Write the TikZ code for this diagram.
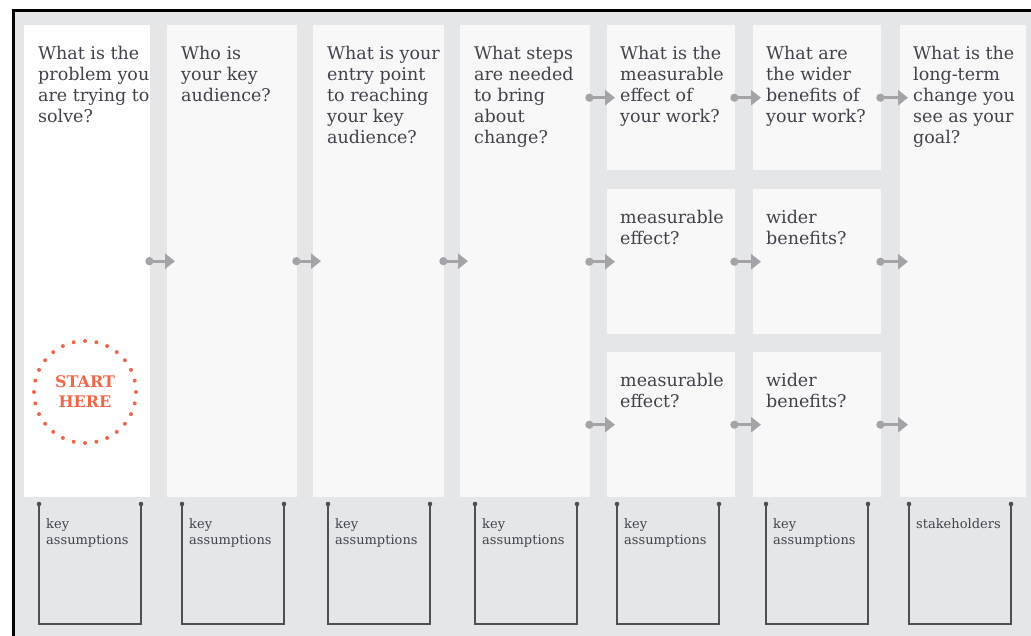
\documentclass[tikz,border=0pt]{standalone}
\usepackage{fontspec}
\setmainfont{DejaVu Serif}
\usetikzlibrary{arrows.meta,calc}
\definecolor{bgray}{HTML}{E5E6E8}
\definecolor{cardfill}{HTML}{F8F8F8}
\definecolor{ink}{HTML}{42424C}
\definecolor{arrowgray}{HTML}{A3A3A8}
\definecolor{brkgray}{HTML}{505054}
\definecolor{coral}{HTML}{F2664A}
\begin{document}
\begin{tikzpicture}[x=1pt,y=-1pt,
  card/.style={fill=cardfill, draw=none, inner sep=0pt, anchor=north west},
  tallcard/.style={card, minimum height=472pt},
  rowcard/.style={card, minimum width=128pt, minimum height=145pt},
  q/.style={anchor=north west, inner sep=0pt, align=left, text=ink, font=\fontsize{17.5}{21}\selectfont},
  small/.style={anchor=north west, inner sep=0pt, align=left, text=ink, font=\fontsize{13}{16}\selectfont},
  flow/.style={draw=arrowgray, line width=2.8pt, {Circle[length=8pt,width=8pt]}-{Triangle[length=10pt,width=15pt]}},
  bracket/.style={draw=brkgray, line width=1.5pt},
  brkdot/.style={fill=brkgray},
  startdot/.style={fill=coral}]
\useasboundingbox (0,0) rectangle (1031,636);
\clip (0,0) rectangle (1031,636);
\fill[white] (0,0) rectangle (1031,636);
\fill[bgray] (13,10) rectangle (1031,636);
\draw[line width=3pt] (13.5,640) -- (13.5,10.5) -- (1040,10.5);

% columns
\node[tallcard, fill=white, minimum width=126pt] (c1) at (24,25) {};
\node[tallcard, minimum width=130pt] (c2) at (167,25) {};
\node[tallcard, minimum width=131pt] (c3) at (313,25) {};
\node[tallcard, minimum width=130pt] (c4) at (460,25) {};
\node[rowcard] (r1a) at (607,25) {};
\node[rowcard] (r2a) at (607,189) {};
\node[rowcard] (r3a) at (607,352) {};
\node[rowcard] (r1b) at (753,25) {};
\node[rowcard] (r2b) at (753,189) {};
\node[rowcard] (r3b) at (753,352) {};
\node[tallcard, minimum width=126pt] (c7) at (900,25) {};

% questions
\node[q] (t1) at (38,46) {What is the\\problem you\\are trying to\\solve?};
\node[q] (t2) at (181,46) {Who is\\your key\\audience?};
\node[q] (t3) at (327,46) {What is your\\entry point\\to reaching\\your key\\audience?};
\node[q] (t4) at (474,46) {What steps\\are needed\\to bring\\about\\change?};
\node[q] (t5) at (620,46) {What is the\\measurable\\effect of\\your work?};
\node[q] (t6) at (766,46) {What are\\the wider\\benefits of\\your work?};
\node[q] (t7) at (913,46) {What is the\\long-term\\change you\\see as your\\goal?};
\node[q] (t5b) at (620,210) {measurable\\effect?};
\node[q] (t6b) at (766,210) {wider\\benefits?};
\node[q] (t5c) at (620,373) {measurable\\effect?};
\node[q] (t6c) at (766,373) {wider\\benefits?};

% start here
\node[inner sep=0pt, align=center, text=coral, font=\bfseries\fontsize{16}{20}\selectfont] (start) at (85,392) {START\\HERE};
\foreach \a in {0,1,...,27}
  \fill[startdot] (start.center) ++(\a*360/28:51) circle[radius=2pt];

% flow arrows
\draw[flow] ([xshift=-5pt]c1.east) -- ([xshift=8pt]c2.west);
\draw[flow] ([xshift=-5pt]c2.east) -- ([xshift=8pt]c3.west);
\draw[flow] ([xshift=-5pt]c3.east) -- ([xshift=8pt]c4.west);
\draw[flow] ($(c4.east |- r1a.west)+(-5,0)$) -- ([xshift=8pt]r1a.west);
\draw[flow] ($(c4.east |- r2a.west)+(-5,0)$) -- ([xshift=8pt]r2a.west);
\draw[flow] ($(c4.east |- r3a.west)+(-5,0)$) -- ([xshift=8pt]r3a.west);
\draw[flow] ([xshift=-5pt]r1a.east) -- ([xshift=8pt]r1b.west);
\draw[flow] ([xshift=-5pt]r2a.east) -- ([xshift=8pt]r2b.west);
\draw[flow] ([xshift=-5pt]r3a.east) -- ([xshift=8pt]r3b.west);
\draw[flow] ([xshift=-5pt]r1b.east) -- ($(r1b.east -| c7.west)+(8,0)$);
\draw[flow] ([xshift=-5pt]r2b.east) -- ($(r2b.east -| c7.west)+(8,0)$);
\draw[flow] ([xshift=-5pt]r3b.east) -- ($(r3b.east -| c7.west)+(8,0)$);

% bottom brackets
\foreach \l/\r/\txt [count=\i] in {39/141/key\\assumptions, 182/284/key\\assumptions, 328/430/key\\assumptions, 475/577/key\\assumptions, 617/719/key\\assumptions, 766/868/key\\assumptions, 909/1011/stakeholders}{
  \coordinate (bl\i) at (\l,504);
  \coordinate (br\i) at (\r,504);
  \draw[bracket] (bl\i) -- (\l,624) -- (\r,624) -- (br\i);
  \fill[brkdot] (bl\i) circle[radius=2.3pt];
  \fill[brkdot] (br\i) circle[radius=2.3pt];
  \node[small] (k\i) at (\l+7,518) {\txt};
}
\end{tikzpicture}
\end{document}
